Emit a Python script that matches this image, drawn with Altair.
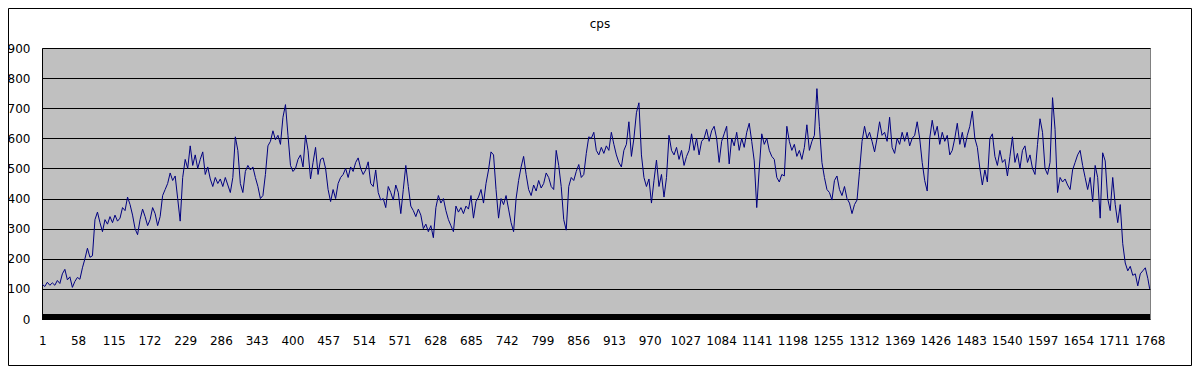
import altair as alt
import pandas as pd

chart_title = "cps"
y_ticks = [0, 100, 200, 300, 400, 500, 600, 700, 800, 900]
x_tick_labels = list(range(1, 1769, 57))
categories = list(range(1, 1766, 4)) + [1768]

cps = [
    115, 108, 122, 112,  120, 112, 128, 118,  150, 165, 130, 140,  105, 125, 138, 132,
    170, 200, 235, 205,  210, 330, 355, 320,  290, 330, 315, 340,  320, 345, 325, 335,
    370, 360, 405, 380,  345, 300, 280, 330,  365, 340, 310, 330,  370, 350, 310, 340,
    410, 430, 450, 485,  460, 475, 400, 325,  470, 530, 500, 575,  510, 545, 500, 530,
    555, 480, 505, 465,  440, 470, 450, 465,  440, 470, 445, 420,  470, 605, 560, 450,
    420, 490, 510, 495,  505, 470, 440, 400,  410, 480, 575, 590,  625, 595, 610, 580,
    670, 712, 610, 510,  490, 500, 530, 545,  505, 610, 560, 465,  520, 570, 480, 530,
    535, 500, 430, 390,  430, 400, 450, 470,  480, 500, 470, 505,  490, 520, 535, 500,
    480, 495, 522, 450,  440, 495, 420, 395,  400, 370, 440, 420,  395, 445, 420, 350,
    430, 510, 440, 375,  360, 340, 365, 345,  300, 315, 290, 310,  270, 370, 410, 385,
    400, 360, 330, 310,  290, 375, 355, 370,  350, 375, 365, 410,  335, 390, 405, 430,
    385, 450, 495, 555,  545, 430, 335, 400,  380, 410, 365, 320,  290, 400, 460, 505,
    540, 480, 430, 410,  445, 425, 460, 435,  450, 485, 470, 440,  430, 560, 510, 440,
    330, 295, 440, 470,  460, 490, 513, 470,  480, 550, 605, 600,  620, 560, 545, 570,
    550, 575, 560, 620,  580, 545, 520, 505,  560, 580, 655, 540,  600, 685, 718, 545,
    470, 440, 465, 385,  460, 528, 440, 480,  405, 470, 610, 560,  545, 570, 530, 560,
    510, 540, 560, 615,  560, 600, 545, 590,  600, 630, 590, 625,  640, 600, 520, 590,
    615, 640, 515, 600,  575, 620, 560, 600,  570, 620, 650, 590,  525, 370, 500, 615,
    580, 600, 560, 540,  530, 470, 455, 480,  475, 640, 590, 560,  580, 540, 560, 530,
    570, 645, 560, 590,  610, 765, 640, 520,  470, 430, 420, 395,  460, 475, 430, 410,
    440, 400, 385, 350,  380, 395, 490, 590,  640, 600, 620, 590,  555, 600, 655, 610,
    620, 590, 670, 570,  550, 600, 580, 620,  590, 620, 575, 600,  610, 655, 600, 520,
    460, 425, 600, 660,  610, 640, 580, 620,  590, 610, 545, 560,  600, 650, 580, 620,
    570, 610, 640, 690,  600, 570, 500, 445,  495, 455, 600, 615,  540, 510, 560, 520,
    530, 475, 540, 605,  520, 550, 500, 560,  575, 520, 545, 500,  480, 580, 665, 620,
    500, 480, 520, 735,  630, 420, 470, 455,  465, 445, 430, 495,  520, 545, 560, 510,
    470, 430, 470, 390,  510, 470, 335, 552,  525, 400, 360, 470,  380, 320, 380, 250,
    186, 160, 175, 145,  150, 110, 150, 160,  170, 135, 100,
]

n = min(len(categories), len(cps))
df = pd.DataFrame({"category": categories[:n], "cps": cps[:n]})

W, H = 1108, 271
PAD_L, PAD_T, PAD_R, PAD_B = 34, 40, 42, 47
FONT = "DejaVu Sans"

line = alt.Chart(df).mark_line(color="#000080", strokeWidth=1).encode(
    x=alt.X(
        "category:Q",
        scale=alt.Scale(domain=[0.5, 1768.5], nice=False, zero=False),
        axis=alt.Axis(
            values=x_tick_labels, format="d", title=None, grid=False, ticks=False,
            tickSize=0, domain=False, labelFlush=False, labelPadding=16,
            labelFontSize=12, labelFont=FONT, labelColor="black", labelOverlap=False,
        ),
    ),
    y=alt.Y(
        "cps:Q",
        scale=alt.Scale(domain=[0, 900], nice=False),
        axis=alt.Axis(
            values=y_ticks, format="d", title=None, grid=True, gridColor="black",
            gridWidth=1, ticks=False, tickSize=0, domain=True, domainColor="black",
            domainWidth=1, labelPadding=12, labelFontSize=12, labelFont=FONT,
            labelColor="black",
        ),
    ),
)

one = pd.DataFrame({"label": [chart_title]})

floor_bar = alt.Chart(one).mark_rect(color="black").encode(
    x=alt.value(0), x2=alt.value(W), y=alt.value(H - 5), y2=alt.value(H + 1)
)

frame = alt.Chart(one).mark_rect(fill="white", fillOpacity=0, stroke="black", strokeWidth=1).encode(
    x=alt.value(-PAD_L + 0.5), x2=alt.value(W + PAD_R - 0.5),
    y=alt.value(-PAD_T + 0.5), y2=alt.value(H + PAD_B - 0.5),
)

title_mark = alt.Chart(one).mark_text(
    font=FONT, fontSize=12, color="black", align="center", baseline="alphabetic"
).encode(x=alt.value(W / 2 + 4), y=alt.value(-20), text="label:N")

chart = (
    alt.layer(line, floor_bar, frame, title_mark)
    .properties(
        width=W, height=H,
        autosize=alt.AutoSizeParams(type="none"),
        padding={"left": PAD_L, "top": PAD_T, "right": PAD_R, "bottom": PAD_B},
        background="white",
    )
    .configure_view(fill="#C0C0C0", stroke="#808080", strokeWidth=1)
)

chart.save("out.html", embed_options={"renderer": "svg", "actions": False})
